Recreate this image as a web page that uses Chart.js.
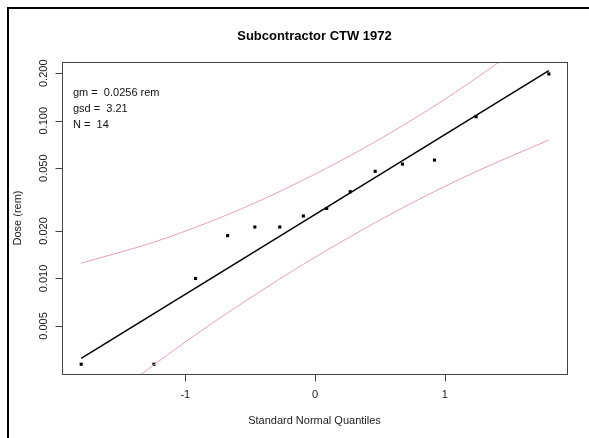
<!DOCTYPE html>
<html>
<head>
<meta charset="utf-8">
<script src="https://cdn.jsdelivr.net/npm/chart.js@4"></script>
<style>
  body { margin: 0; background: #fff; }
  #wrap { width: 589px; height: 438px; }
</style>
</head>
<body>
<div id="wrap"><canvas id="qqChart" width="589" height="438"></canvas></div>
<script>
// data
const quantiles = [-1.803, -1.242, -0.921, -0.674, -0.464, -0.272, -0.090, 0.090, 0.272, 0.464, 0.674, 0.921, 1.242, 1.803];
const doses = [0.00286, 0.00286, 0.0100, 0.0187, 0.0212, 0.0212, 0.0249, 0.0278, 0.0355, 0.0478, 0.0531, 0.0563, 0.106, 0.198];
const upperBand = [0.0125, 0.0170, 0.0211, 0.0254, 0.0301, 0.0356, 0.0421, 0.0500, 0.0601, 0.0736, 0.0930, 0.124, 0.186, 0.398];
const lowerBand = [0.00126, 0.00284, 0.00440, 0.00606, 0.00787, 0.00993, 0.0123, 0.0151, 0.0184, 0.0226, 0.0280, 0.0356, 0.0476, 0.0754];
const fitX = [-1.803, 1.803];
const fitY = [0.00312, 0.208];
const xTicks = [-1, 0, 1];
const yTicks = [0.005, 0.01, 0.02, 0.05, 0.1, 0.2];
const yTickLabels = ["0.005", "0.010", "0.020", "0.050", "0.100", "0.200"];
const statLines = ["gm =  0.0256 rem", "gsd =  3.21", "N =  14"];
const title = "Subcontractor CTW 1972";
const xTitle = "Standard Normal Quantiles";
const yTitle = "Dose (rem)";

const FONT = '"Liberation Sans", Arial, Helvetica, sans-serif';
const pink = "#e2a0c2";

function toPoints(xs, ys) {
  return xs.map((x, i) => ({ x: x, y: ys[i] }));
}

const rPlot = {
  id: "rPlot",
  beforeDraw(chart) {
    const ctx = chart.ctx;
    ctx.save();
    ctx.fillStyle = "#fff";
    ctx.fillRect(0, 0, chart.width, chart.height);
    // outer frame (only top and left are visible)
    ctx.strokeStyle = "#000";
    ctx.lineWidth = 2;
    ctx.beginPath();
    ctx.moveTo(8, chart.height);
    ctx.lineTo(8, 8);
    ctx.lineTo(chart.width, 8);
    ctx.stroke();
    ctx.restore();
  },
  afterDraw(chart) {
    const ctx = chart.ctx;
    const a = chart.chartArea;
    const xs = chart.scales.x, ys = chart.scales.y;
    ctx.save();
    ctx.strokeStyle = "#444";
    ctx.lineWidth = 1;
    ctx.strokeRect(Math.round(a.left) + 0.5, Math.round(a.top) + 0.5, Math.round(a.right - a.left), Math.round(a.bottom - a.top));

    ctx.fillStyle = "#222";
    ctx.font = "11px " + FONT;
    // x axis
    const by = Math.round(a.bottom) + 0.5;
    ctx.beginPath();
    ctx.moveTo(xs.getPixelForValue(xTicks[0]), by);
    ctx.lineTo(xs.getPixelForValue(xTicks[xTicks.length - 1]), by);
    xTicks.forEach(t => {
      const px = Math.round(xs.getPixelForValue(t)) + 0.5;
      ctx.moveTo(px, by);
      ctx.lineTo(px, by + 7);
    });
    ctx.stroke();
    ctx.textAlign = "center";
    ctx.textBaseline = "middle";
    xTicks.forEach(t => ctx.fillText(String(t), xs.getPixelForValue(t), by + 20));

    // y axis
    const lx = Math.round(a.left) + 0.5;
    ctx.beginPath();
    ctx.moveTo(lx, ys.getPixelForValue(yTicks[0]));
    ctx.lineTo(lx, ys.getPixelForValue(yTicks[yTicks.length - 1]));
    yTicks.forEach(t => {
      const py = Math.round(ys.getPixelForValue(t)) + 0.5;
      ctx.moveTo(lx, py);
      ctx.lineTo(lx - 7, py);
    });
    ctx.stroke();
    yTicks.forEach((t, i) => {
      ctx.save();
      ctx.translate(lx - 19, ys.getPixelForValue(t));
      ctx.rotate(-Math.PI / 2);
      ctx.fillText(yTickLabels[i], 0, 0);
      ctx.restore();
    });

    // axis titles
    ctx.fillText(xTitle, (a.left + a.right) / 2, 421);
    ctx.save();
    ctx.translate(18, (a.top + a.bottom) / 2);
    ctx.rotate(-Math.PI / 2);
    ctx.fillText(yTitle, 0, 0);
    ctx.restore();

    // stats text
    ctx.textAlign = "left";
    ctx.fillStyle = "#111";
    statLines.forEach((s, i) => ctx.fillText(s, 73, 93 + i * 16));

    // title
    ctx.font = "bold 13px " + FONT;
    ctx.textAlign = "center";
    ctx.fillStyle = "#000";
    ctx.fillText(title, (a.left + a.right) / 2, 36);
    ctx.restore();
  }
};

new Chart(document.getElementById("qqChart"), {
  type: "scatter",
  data: {
    datasets: [
      {
        label: "upper",
        data: toPoints(quantiles, upperBand),
        showLine: true,
        borderColor: pink,
        borderWidth: 1,
        pointRadius: 0,
        cubicInterpolationMode: "monotone"
      },
      {
        label: "lower",
        data: toPoints(quantiles, lowerBand),
        showLine: true,
        borderColor: pink,
        borderWidth: 1,
        pointRadius: 0,
        cubicInterpolationMode: "monotone"
      },
      {
        label: "fit",
        data: toPoints(fitX, fitY),
        showLine: true,
        borderColor: "#000",
        borderWidth: 1.5,
        pointRadius: 0
      },
      {
        label: "doses",
        data: toPoints(quantiles, doses),
        pointStyle: "rect",
        pointRadius: 2.2,
        borderWidth: 0,
        backgroundColor: "#000"
      }
    ]
  },
  options: {
    responsive: false,
    animation: false,
    layout: { padding: { left: 62, top: 62, right: 22, bottom: 64 } },
    plugins: { legend: { display: false }, tooltip: { enabled: false } },
    scales: {
      x: { type: "linear", min: -1.951, max: 1.943, display: false },
      y: { type: "logarithmic", min: 0.00248, max: 0.2357, display: false }
    }
  },
  plugins: [rPlot]
});
</script>
</body>
</html>
